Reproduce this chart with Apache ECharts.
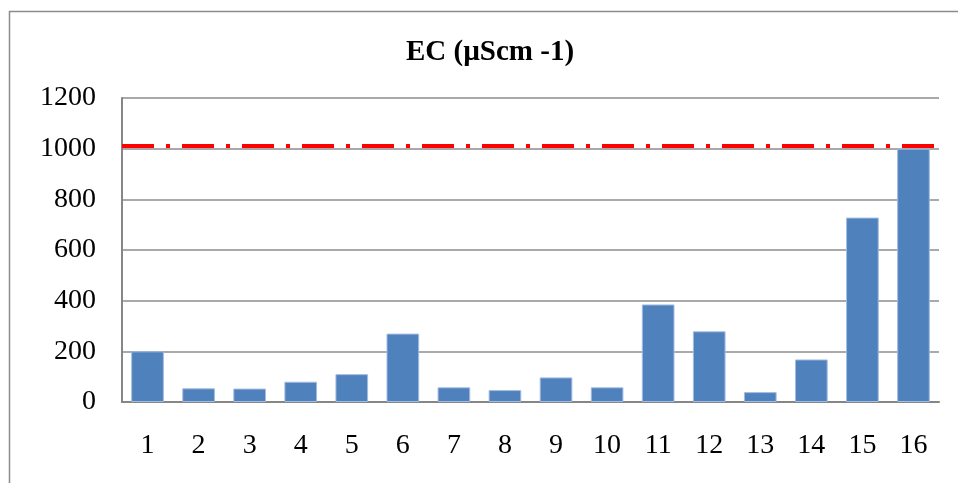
<!DOCTYPE html>
<html>
<head>
<meta charset="utf-8">
<script src="https://cdn.jsdelivr.net/npm/echarts@6/dist/echarts.min.js"></script>
<style>
html, body { margin: 0; padding: 0; background: #fff; }
#ec-chart-box { width: 958px; height: 483px; }
</style>
</head>
<body>
<div id="ec-chart-box"></div>
<script>
// sample numbers and measured EC
var categories = ['1', '2', '3', '4', '5', '6', '7', '8', '9', '10', '11', '12', '13', '14', '15', '16'];
var ecValues = [200, 54, 53, 80, 110, 270, 58, 47, 97, 58, 385, 279, 39, 168, 728, 1000];
var limitValue = [1013];
var yTicks = [0, 200, 400, 600, 800, 1000, 1200];

var font = '"Liberation Serif", "Times New Roman", serif';
var myChart = echarts.init(document.getElementById('ec-chart-box'));

var option = {
    backgroundColor: '#fff',
    animation: false,
    title: {
        text: 'EC (µScm -1)',
        left: 485,
        textAlign: 'center',
        top: 33,
        textStyle: {
            fontFamily: font,
            fontWeight: 'bold',
            fontSize: 29,
            color: '#000'
        }
    },
    graphic: [{
        type: 'rect',
        shape: { x: 9.5, y: 11.5, width: 970, height: 490 },
        style: { fill: 'none', stroke: '#8c8c8c', lineWidth: 1.5 },
        silent: true
    }],
    grid: {
        left: 122,
        right: 19,
        top: 98,
        bottom: 81
    },
    xAxis: {
        type: 'category',
        data: categories,
        axisTick: { show: false },
        axisLine: {
            lineStyle: { color: '#868686', width: 2 }
        },
        axisLabel: {
            fontFamily: font,
            fontSize: 28,
            color: '#000',
            margin: 30
        }
    },
    yAxis: {
        type: 'value',
        min: yTicks[0],
        max: yTicks[yTicks.length - 1],
        interval: 200,
        axisLine: {
            show: true,
            lineStyle: { color: '#868686', width: 2 }
        },
        axisTick: { show: false },
        splitLine: {
            lineStyle: { color: '#8c8c8c', width: 1.5 }
        },
        axisLabel: {
            fontFamily: font,
            fontSize: 28,
            color: '#000',
            margin: 26,
            formatter: function (v) { return String(v); }
        }
    },
    series: [{
        name: 'EC',
        type: 'bar',
        data: ecValues,
        barCategoryGap: '36%',
        itemStyle: {
            color: '#4F81BD',
            borderColor: '#a3bce0',
            borderWidth: 1
        },
        markLine: {
            silent: true,
            symbol: 'none',
            label: { show: false },
            lineStyle: {
                color: '#ff0000',
                width: 4,
                type: [32, 12, 4, 12]
            },
            data: limitValue.map(function (v) { return { yAxis: v }; })
        }
    }]
};

myChart.setOption(option);
</script>
</body>
</html>
